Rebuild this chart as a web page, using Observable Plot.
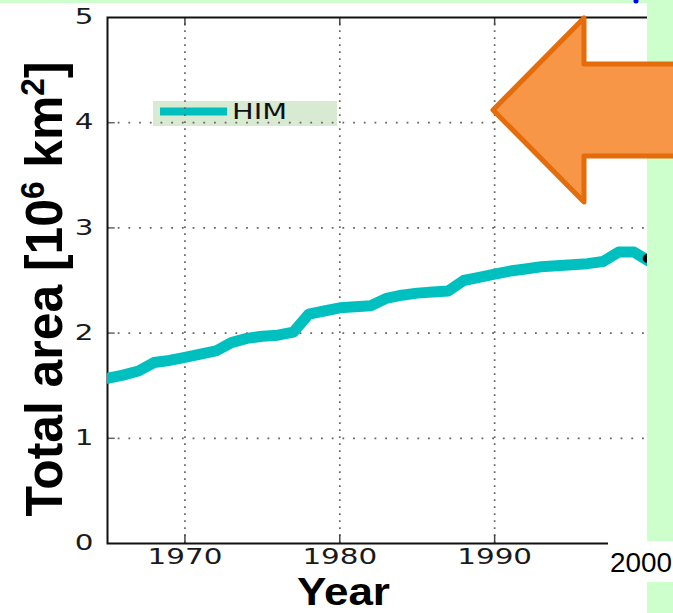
<!DOCTYPE html>
<html>
<head>
<meta charset="utf-8">
<script src="https://cdn.jsdelivr.net/npm/d3@7"></script>
<script src="https://cdn.jsdelivr.net/npm/@observablehq/plot@0.6"></script>
<style>
  html, body { margin: 0; padding: 0; background: white; }
  #chart { width: 673px; height: 613px; overflow: hidden; }
</style>
</head>
<body>
<div id="chart"></div>
<script>
// ---- data ----
const years = [1965,1966,1967,1968,1969,1970,1971,1972,1973,1974,1975,1976,1977,1978,1979,1980,1981,1982,1983,1984,1985,1986,1987,1988,1989,1990,1991,1992,1993,1994,1995,1996,1997,1998,1999,2000];
const himArea = [1.57,1.60,1.64,1.72,1.74,1.77,1.80,1.83,1.91,1.95,1.97,1.98,2.01,2.18,2.21,2.24,2.25,2.26,2.33,2.36,2.38,2.39,2.40,2.50,2.53,2.56,2.59,2.61,2.63,2.64,2.65,2.66,2.68,2.77,2.77,2.68];
const otherYears = [1999.87];
const otherArea = [2.71];
const xTicks = [1970, 1980, 1990];
const yTicks = [0, 1, 2, 3, 4, 5];
const yGrid = [1, 2, 3, 4];
const seriesName = "HIM";
const xLabel = "Year";
const extraTick = "2000";

const him = years.map((y, i) => ({year: y, area: himArea[i]}));
const other = otherYears.map((y, i) => ({year: y, area: otherArea[i]}));

const cyan = "#00bfbf";

const plot = Plot.plot({
  width: 673,
  height: 613,
  marginLeft: 107,
  marginRight: 24,
  marginTop: 17,
  marginBottom: 70,
  x: {domain: [1965, 2000]},
  y: {domain: [0, 5]},
  style: {fontFamily: "DejaVu Sans", fontSize: "21px", color: "#1a1a1a", background: "white"},
  marks: [
    Plot.ruleX(xTicks, {y1: 0, y2: 5, stroke: "#666", strokeWidth: 1.7, strokeDasharray: "1.8,5.2"}),
    Plot.ruleY(yGrid, {x1: 1965, x2: 2000, stroke: "#666", strokeWidth: 1.7, strokeDasharray: "1.8,8.9"}),
    Plot.ruleX(xTicks, {y1: 0, y2: 0.08, stroke: "#444", strokeWidth: 1.5}),
    Plot.ruleX(xTicks, {y1: 5, y2: 4.92, stroke: "#444", strokeWidth: 1.5}),
    Plot.ruleY(yGrid, {x1: 1965, x2: 1965.5, stroke: "#666", strokeWidth: 1.5}),
    Plot.axisX(xTicks, {tickSize: 0, tickPadding: 6, label: null, tickFormat: d => String(d)}),
    Plot.axisY(yTicks, {tickSize: 0, tickPadding: 14, label: null, tickFormat: d => String(d)}),
    Plot.frame({stroke: "#111", strokeWidth: 2}),
    Plot.line(him, {x: "year", y: "area", stroke: cyan, strokeWidth: 11, strokeLinejoin: "round", strokeLinecap: "round", clip: true}),
    Plot.dot(other, {x: "year", y: "area", r: 4.5, fill: "black", stroke: "#303", strokeWidth: 0.5})
  ]
});

document.getElementById("chart").appendChild(plot);
const svg = d3.select(plot);

// horizontally stretched tick labels (as in the reference)
svg.selectAll('g[aria-label="x-axis tick label"] text, g[aria-label="y-axis tick label"] text')
  .each(function() {
    const L = this.getComputedTextLength();
    this.setAttribute("textLength", L * 1.4);
    this.setAttribute("lengthAdjust", "spacingAndGlyphs");
  });

// legend (under the grid dots)
const legend = svg.insert("g", "g");
legend.append("rect").attr("x", 153).attr("y", 101).attr("width", 184).attr("height", 25).attr("fill", "#d9ead3");
legend.append("line").attr("x1", 160).attr("x2", 227).attr("y1", 111.5).attr("y2", 111.5)
  .attr("stroke", cyan).attr("stroke-width", 8);
legend.append("text").attr("x", 232).attr("y", 119).attr("text-anchor", "start").text(seriesName)
  .style("font-family", "DejaVu Sans").style("font-size", "22px").attr("fill", "#111")
  .attr("textLength", 55).attr("lengthAdjust", "spacingAndGlyphs");

// x label
svg.append("text").attr("x", 343.5).attr("y", 604.5).attr("text-anchor", "middle")
  .style("font-family", "Liberation Sans").style("font-weight", "bold").style("font-size", "39px")
  .attr("fill", "#000").attr("textLength", 93).attr("lengthAdjust", "spacingAndGlyphs").text(xLabel);

// y label with superscripts
const yl = svg.append("text")
  .attr("transform", "translate(62,289) rotate(-90)")
  .attr("text-anchor", "middle")
  .style("font-family", "Liberation Sans").style("font-weight", "bold").style("font-size", "52px")
  .attr("fill", "#000");
yl.append("tspan").text("Total area [10");
yl.append("tspan").attr("baseline-shift", "super").style("font-size", "33px").text("6");
yl.append("tspan").text(" km");
yl.append("tspan").attr("baseline-shift", "super").style("font-size", "33px").text("2");
yl.append("tspan").text("]");
yl.attr("textLength", 455).attr("lengthAdjust", "spacingAndGlyphs");

// slide overlays: green strips, white label box, arrow
svg.append("rect").attr("x", 647).attr("y", 0).attr("width", 26).attr("height", 613).attr("fill", "#ccffcc");
svg.append("rect").attr("x", 0).attr("y", 0).attr("width", 673).attr("height", 3).attr("fill", "#ccffcc");
svg.append("rect").attr("x", 608).attr("y", 541).attr("width", 65).attr("height", 41).attr("fill", "white");
svg.append("text").attr("x", 641).attr("y", 572).attr("text-anchor", "middle")
  .style("font-family", "Liberation Sans").style("font-size", "28px").attr("fill", "#000")
  .attr("textLength", 62).attr("lengthAdjust", "spacingAndGlyphs").text(extraTick);
svg.append("path")
  .attr("d", "M493,110 L584,18 L584,64 L690,64 L690,156 L584,156 L584,202 Z")
  .attr("fill", "#f79646").attr("stroke", "#e46c0a").attr("stroke-width", 5).attr("stroke-linejoin", "round");
svg.append("circle").attr("cx", 636).attr("cy", 1).attr("r", 2.5).attr("fill", "#0000ff");
</script>
</body>
</html>
